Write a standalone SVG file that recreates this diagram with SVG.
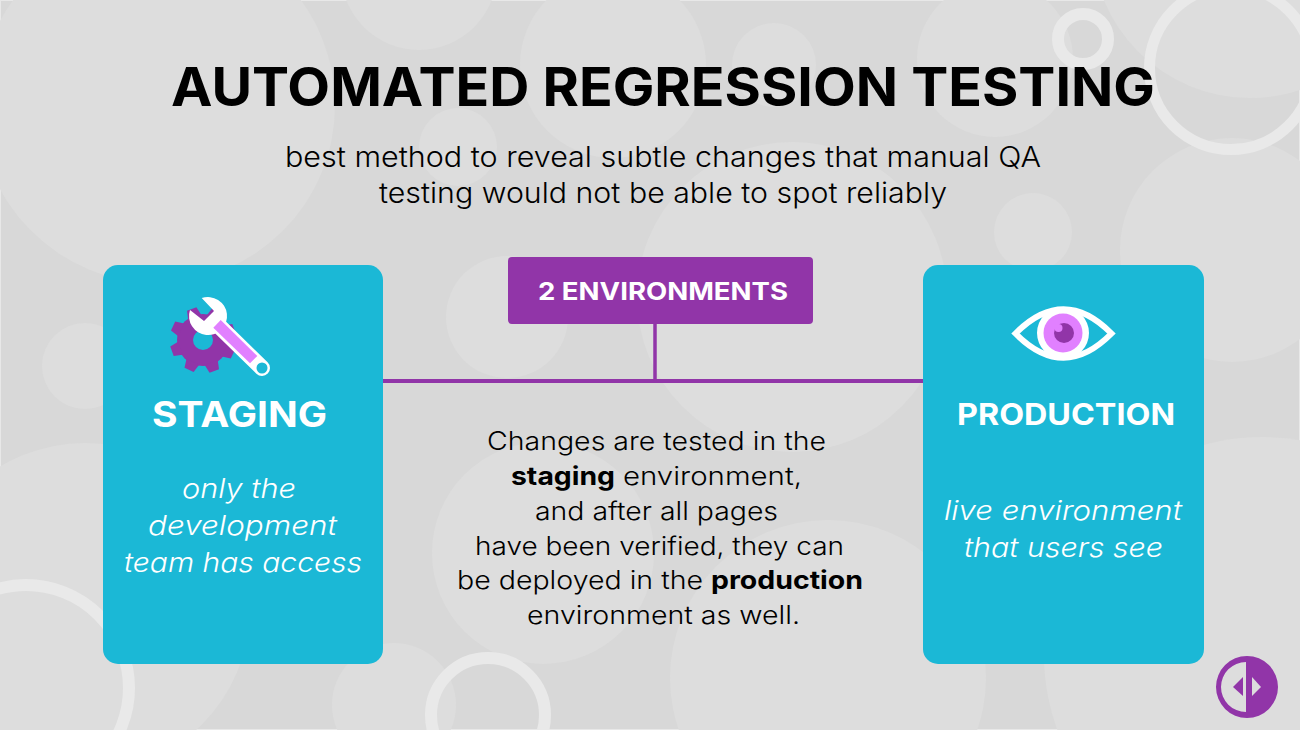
<svg xmlns="http://www.w3.org/2000/svg" width="1300" height="730" viewBox="0 0 1300 730">
<style>
text{font-family:Inter,"Open Sans","Liberation Sans",sans-serif;}
.bub{fill:#dddddd}
.ring{fill:none;stroke:#e9e9e9;stroke-width:12}
.card{fill:#1bb8d6}
.purple{fill:#9135a8}
.pink{fill:#e180ff}
.white{fill:#ffffff}
.title{font-size:53px;font-weight:700;fill:#000}
.sub{font-size:28px;font-weight:300;fill:#000}
.body{font-size:25.5px;font-weight:300;fill:#000}
.b{font-weight:700}
.head{font-weight:700;fill:#fff}
.it{font-size:27px;font-weight:300;font-style:italic;fill:#fff}
.conn{stroke:#9135a8;fill:none}
</style>
<defs>
<path id="tooth" d="M-7,-24 L-5,-33 L5,-33 L7,-24Z"/>
</defs>
<g id="background">
<rect width="1300" height="730" fill="#d8d8d8"/>
<rect x="0.5" y="0.5" width="1299" height="729" fill="none" stroke="#e8e8e8"/>
<circle class="bub" cx="157" cy="105" r="178"/>
<circle class="bub" cx="419" cy="-28" r="78"/>
<circle class="bub" cx="458" cy="147" r="39"/>
<circle class="bub" cx="613" cy="65" r="93"/>
<circle class="bub" cx="774" cy="65" r="42"/>
<circle class="bub" cx="995" cy="59" r="78"/>
<circle class="bub" cx="1250" cy="-60" r="158"/>
<circle class="bub" cx="1232" cy="250" r="112"/>
<circle class="bub" cx="1033" cy="232" r="39"/>
<circle class="bub" cx="792" cy="297" r="155"/>
<circle class="bub" cx="507" cy="317" r="61"/>
<circle class="bub" cx="85" cy="366" r="43"/>
<circle class="bub" cx="85" cy="608" r="165"/>
<circle class="bub" cx="394" cy="705" r="62"/>
<circle class="bub" cx="543" cy="553" r="111"/>
<circle class="bub" cx="828" cy="678" r="158"/>
<circle class="bub" cx="1262" cy="655" r="218"/>
<circle class="ring" cx="1083" cy="39" r="25"/>
<circle class="ring" cx="1231" cy="68" r="81.5" style="stroke-width:11"/>
<circle class="ring" cx="26" cy="688" r="103"/>
<circle class="ring" cx="488" cy="715" r="57"/>
</g>
<g id="connectors">
<line class="conn" x1="383" y1="381" x2="923" y2="381" stroke-width="4"/>
<line class="conn" x1="655" y1="324" x2="655" y2="381" stroke-width="3.5"/>
</g>
<g id="title">
<text class="title" x="171" y="106" textLength="984" lengthAdjust="spacingAndGlyphs">AUTOMATED REGRESSION TESTING</text>
</g>
<g id="subtitle">
<text class="sub" x="285" y="167" textLength="756" lengthAdjust="spacingAndGlyphs">best method to reveal subtle changes that manual QA</text>
<text class="sub" x="379" y="203" textLength="568" lengthAdjust="spacingAndGlyphs">testing would not be able to spot reliably</text>
</g>
<g id="staging">
<rect class="card" x="103" y="265" width="280" height="399" rx="15"/>
<g class="purple">
<circle cx="203" cy="340" r="26"/>
<use href="#tooth" transform="translate(203 340) rotate(25)"/>
<use href="#tooth" transform="translate(203 340) rotate(70)"/>
<use href="#tooth" transform="translate(203 340) rotate(115)"/>
<use href="#tooth" transform="translate(203 340) rotate(160)"/>
<use href="#tooth" transform="translate(203 340) rotate(205)"/>
<use href="#tooth" transform="translate(203 340) rotate(250)"/>
<use href="#tooth" transform="translate(203 340) rotate(295)"/>
<use href="#tooth" transform="translate(203 340) rotate(340)"/>
</g>
<circle class="card" cx="203" cy="340" r="10"/>
<path class="white" d="M201.7,298.1 L214,311 L204,321 L190,310 A19,19 0 1 0 201.7,298.1Z"/>
<line x1="217" y1="324" x2="262" y2="368" stroke="#fff" stroke-width="16" stroke-linecap="round"/>
<polygon class="pink" points="220.7,320 257.3,356 250,363.3 213.3,327.7"/>
<circle class="card" cx="262" cy="368" r="5.5"/>
<text class="head" x="152" y="427" font-size="35" textLength="175" lengthAdjust="spacingAndGlyphs">STAGING</text>
<text class="it" x="182" y="498" textLength="114" lengthAdjust="spacingAndGlyphs">only the</text>
<text class="it" x="148" y="535" textLength="189" lengthAdjust="spacingAndGlyphs">development</text>
<text class="it" x="124" y="572" textLength="238" lengthAdjust="spacingAndGlyphs">team has access</text>
</g>
<g id="environments">
<rect class="purple" x="508" y="257" width="305" height="67" rx="4"/>
<text class="head" x="538" y="300" font-size="24.5" textLength="250" lengthAdjust="spacingAndGlyphs">2 ENVIRONMENTS</text>
</g>
<g id="description">
<text class="body" x="487" y="450" textLength="339" lengthAdjust="spacingAndGlyphs">Changes are tested in the</text>
<text class="body"><tspan class="b" x="511" y="485" textLength="104" lengthAdjust="spacingAndGlyphs">staging</tspan><tspan x="623" y="485" textLength="179" lengthAdjust="spacingAndGlyphs">environment,</tspan></text>
<text class="body" x="535" y="520" textLength="243" lengthAdjust="spacingAndGlyphs">and after all pages</text>
<text class="body" x="475" y="555" textLength="369" lengthAdjust="spacingAndGlyphs">have been verified, they can</text>
<text class="body"><tspan x="457" y="589" textLength="246" lengthAdjust="spacingAndGlyphs">be deployed in the</tspan><tspan class="b" x="711" y="589" textLength="152" lengthAdjust="spacingAndGlyphs">production</tspan></text>
<text class="body" x="527" y="624" textLength="273" lengthAdjust="spacingAndGlyphs">environment as well.</text>
</g>
<g id="production">
<rect class="card" x="923" y="265" width="281" height="399" rx="15"/>
<path d="M1015.5,333.5 Q1063.5,285 1111.5,333.5 Q1063.5,382 1015.5,333.5Z" fill="none" stroke="#fff" stroke-width="6" stroke-linejoin="miter"/>
<circle class="white" cx="1063" cy="333" r="26"/>
<circle class="pink" cx="1063" cy="333" r="19.5"/>
<circle class="purple" cx="1064" cy="333" r="10"/>
<circle class="pink" cx="1058.5" cy="328" r="4"/>
<text class="head" x="957" y="425" font-size="29.5" textLength="218" lengthAdjust="spacingAndGlyphs">PRODUCTION</text>
<text class="it" x="944" y="520" textLength="238" lengthAdjust="spacingAndGlyphs">live environment</text>
<text class="it" x="964" y="557" textLength="199" lengthAdjust="spacingAndGlyphs">that users see</text>
</g>
<g id="logo">
<path class="purple" fill-rule="evenodd" d="M1247,656 A31,31 0 1 1 1247,718 A31,31 0 1 1 1247,656Z M1246,662 A25,25 0 0 0 1246,712Z"/>
<polygon class="purple" points="1233,687 1243,677 1243,696"/>
<polygon class="bub" points="1252,677 1252,696 1261,687"/>
</g>
</svg>
